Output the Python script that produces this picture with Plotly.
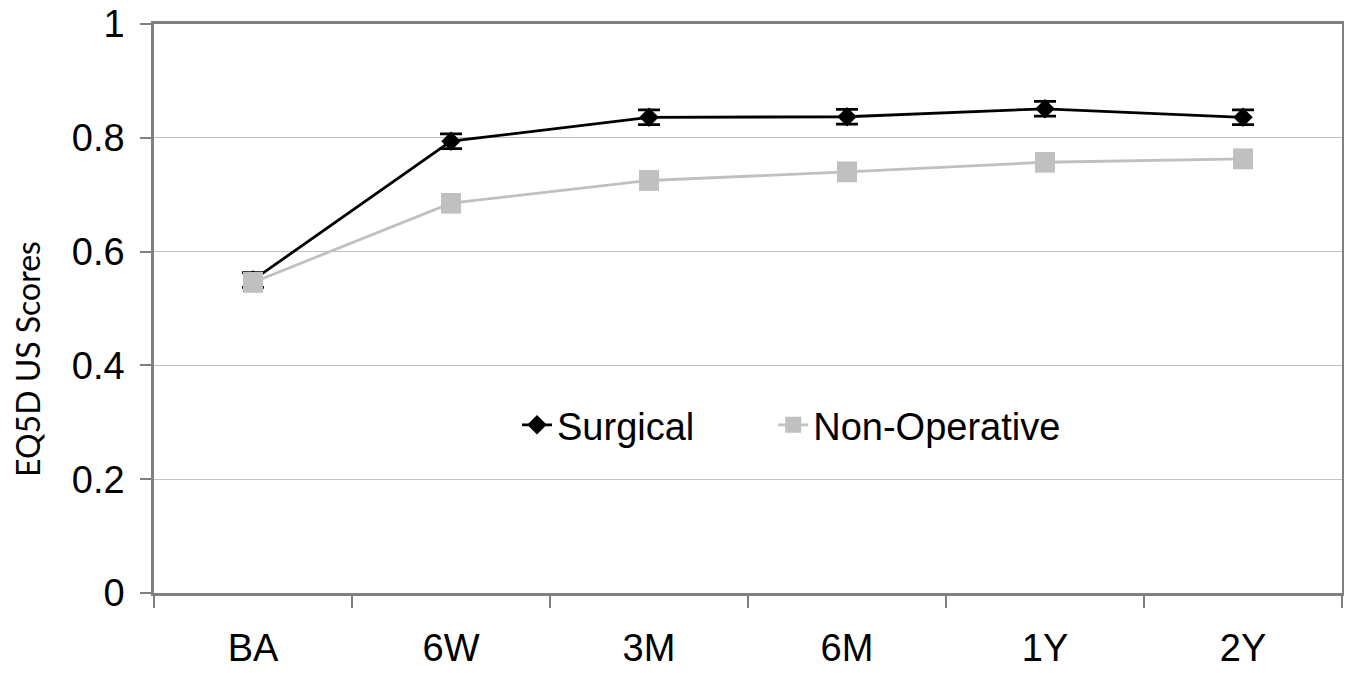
import plotly.graph_objects as go

categories = ["BA", "6W", "3M", "6M", "1Y", "2Y"]
surgical = [0.550, 0.794, 0.836, 0.837, 0.851, 0.836]
surgical_err = [0.013, 0.013, 0.013, 0.013, 0.013, 0.013]
nonop = [0.546, 0.685, 0.725, 0.740, 0.757, 0.763]
nonop_err = [0.016, 0.016, 0.016, 0.016, 0.016, 0.016]
y_ticks = [0, 0.2, 0.4, 0.6, 0.8, 1]
y_tick_labels = ["0", "0.2", "0.4", "0.6", "0.8", "1"]
series_names = ["Surgical", "Non-Operative"]

fig = go.Figure()
fig.add_trace(go.Scatter(
    x=categories, y=surgical, name=series_names[0] + "\u00a0" * 7, mode="lines+markers",
    line=dict(color="black", width=2.8),
    marker=dict(symbol="diamond", size=15, color="black"),
    error_y=dict(type="data", array=surgical_err, color="black", thickness=2.8, width=11),
))
fig.add_trace(go.Scatter(
    x=categories, y=nonop, name=series_names[1], mode="lines+markers",
    line=dict(color="#c0c0c0", width=2.8),
    marker=dict(symbol="square", size=20, color="#c0c0c0"),
    error_y=dict(type="data", array=nonop_err, color="#c0c0c0", thickness=2.5, width=10),
))

font_family = "Liberation Sans, Arial, sans-serif"
fig.update_layout(
    width=1344, height=665,
    margin=dict(l=146, r=10, t=16, b=80, autoexpand=False),
    paper_bgcolor="white", plot_bgcolor="white",
    font=dict(family=font_family, size=38, color="black"),
    showlegend=True,
    legend=dict(orientation="h", x=(517 - 154) / 1188, y=0.295, xanchor="left", yanchor="middle",
                font=dict(size=38), bgcolor="rgba(0,0,0,0)"),
    xaxis=dict(
        type="category", range=[-0.5, 5.5], tickson="boundaries", automargin=False,
        ticks="outside", ticklen=12, tickcolor="#808080", tickwidth=1.5,
        showline=True, linecolor="#808080", linewidth=2.5, mirror=True,
        showgrid=False, tickfont=dict(size=38), ticklabelstandoff=20,
    ),
    yaxis=dict(
        range=[0, 1], tickvals=y_ticks, ticktext=y_tick_labels, automargin=False,
        ticks="outside", ticklen=11, tickcolor="#808080", tickwidth=1.5,
        showline=True, linecolor="#808080", linewidth=2.5, mirror=True,
        showgrid=True, gridcolor="#c0c0c0", gridwidth=1.2, zeroline=False,
        tickfont=dict(size=38), ticklabelstandoff=8, ticklabeloverflow="allow",
    ),
    annotations=[dict(
        text="EQ5D US Scores", textangle=-90, showarrow=False,
        xref="paper", yref="paper", x=(27 - 154) / 1188, y=(593 - 359) / 569,
        xanchor="center", yanchor="middle",
        font=dict(family="Lato, sans-serif", size=32, color="black"),
    )],
)

fig.write_html("out.html")
